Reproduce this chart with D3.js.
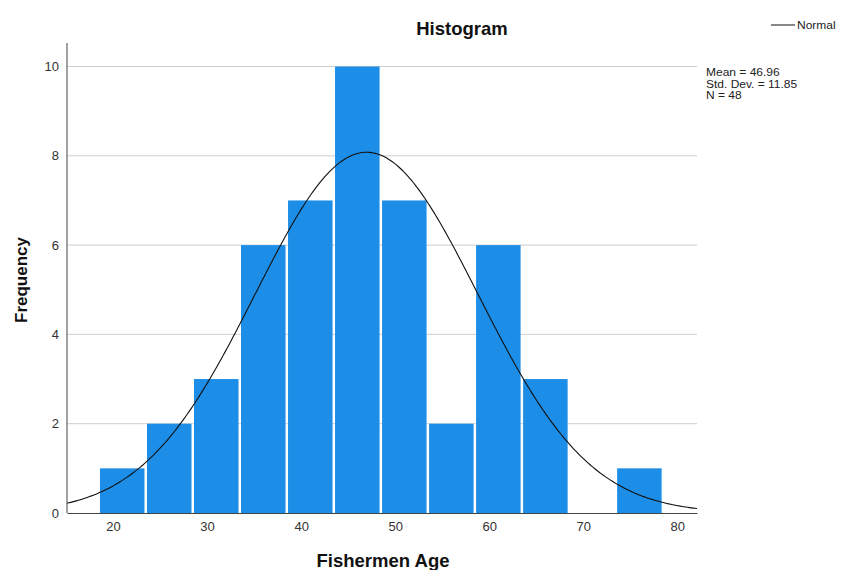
<!DOCTYPE html>
<html>
<head>
<meta charset="utf-8">
<script src="https://cdn.jsdelivr.net/npm/d3@7"></script>
<style>
  html, body { margin: 0; padding: 0; background: #fff; }
  svg text { font-family: "Liberation Sans", Arial, sans-serif; }
</style>
</head>
<body>
<svg id="chart" width="844" height="570"></svg>
<script>
// Age bins (lower edges, width 5) and frequency counts
const binStarts = [18.5, 23.5, 28.5, 33.5, 38.5, 43.5, 48.5, 53.5, 58.5, 63.5, 68.5, 73.5];
const binWidth = 5;
const counts = [1, 2, 3, 6, 7, 10, 7, 2, 6, 3, 0, 1];
const xTicks = [20, 30, 40, 50, 60, 70, 80];
const yTicks = [0, 2, 4, 6, 8, 10];
const stats = { mean: 46.96, sd: 11.85, n: 48 };
const statLines = ["Mean = 46.96", "Std. Dev. = 11.85", "N = 48"];

const svg = d3.select("#chart");
const plotLeft = 67, plotRight = 697, plotTop = 43, plotBottom = 513;

const x = d3.scaleLinear().domain([15.1, 82.1]).range([plotLeft, plotRight]);
const y = d3.scaleLinear().domain([0, 10]).range([plotBottom, 66.5]);

// horizontal gridlines
svg.append("g").selectAll("line")
  .data(yTicks.filter(d => d > 0))
  .join("line")
  .attr("x1", plotLeft).attr("x2", plotRight)
  .attr("y1", d => y(d)).attr("y2", d => y(d))
  .attr("stroke", "#cfcfcf").attr("stroke-width", 1);

// bars
svg.append("g").selectAll("rect")
  .data(binStarts.map((s, i) => ({ s, c: counts[i] })).filter(d => d.c > 0))
  .join("rect")
  .attr("x", d => x(d.s) + 1)
  .attr("width", d => x(d.s + binWidth) - x(d.s) - 2.5)
  .attr("y", d => y(d.c))
  .attr("height", d => y(0) - y(d.c))
  .attr("fill", "#1c8ee8");

// fitted normal curve scaled to counts
const scale = stats.n * binWidth;
const pdf = v => scale / (stats.sd * Math.sqrt(2 * Math.PI)) *
  Math.exp(-0.5 * Math.pow((v - stats.mean) / stats.sd, 2));
const xs = d3.range(x.domain()[0], x.domain()[1] + 0.01, 0.2);
svg.append("path")
  .datum(xs)
  .attr("d", d3.line().x(v => x(v)).y(v => y(pdf(v))))
  .attr("fill", "none").attr("stroke", "#111").attr("stroke-width", 1.1);

// axes
const xAxis = svg.append("g").attr("transform", `translate(0,${plotBottom})`)
  .call(d3.axisBottom(x).tickValues(xTicks).tickSize(0).tickPadding(9));
xAxis.select(".domain").attr("stroke", "#444");
xAxis.selectAll("text").attr("font-size", 13).attr("fill", "#333");

const yAxis = svg.append("g").attr("transform", `translate(${plotLeft},0)`)
  .call(d3.axisLeft(y).tickValues(yTicks).tickSize(0).tickPadding(8));
yAxis.select(".domain").attr("d", `M0,${plotTop}V${plotBottom}`).attr("stroke", "#444");
yAxis.selectAll("text").attr("font-size", 13).attr("fill", "#333");

// titles
svg.append("text").attr("x", 462).attr("y", 35).attr("text-anchor", "middle")
  .attr("font-size", 18.5).attr("font-weight", "bold").attr("fill", "#111").text("Histogram");
svg.append("text").attr("x", 383).attr("y", 567).attr("text-anchor", "middle")
  .attr("font-size", 18.5).attr("font-weight", "bold").attr("fill", "#111").text("Fishermen Age");
svg.append("text").attr("transform", "translate(27,280) rotate(-90)").attr("text-anchor", "middle")
  .attr("font-size", 17).attr("font-weight", "bold").attr("fill", "#111").text("Frequency");

// legend (text slightly widened)
svg.append("line").attr("x1", 771).attr("x2", 795).attr("y1", 25).attr("y2", 25)
  .attr("stroke", "#111").attr("stroke-width", 1);
svg.append("text").attr("transform", "translate(797,29) scale(1.2,1)")
  .attr("font-size", 10).attr("fill", "#222").text("Normal");

// summary statistics (tight line spacing, widened glyphs)
svg.append("g").attr("transform", "translate(706,0) scale(1.2,1)")
  .selectAll("text")
  .data(statLines)
  .join("text")
  .attr("x", 0).attr("y", (d, i) => 76.5 + i * 11.5)
  .attr("font-size", 10).attr("fill", "#222")
  .text(d => d);
</script>
</body>
</html>
